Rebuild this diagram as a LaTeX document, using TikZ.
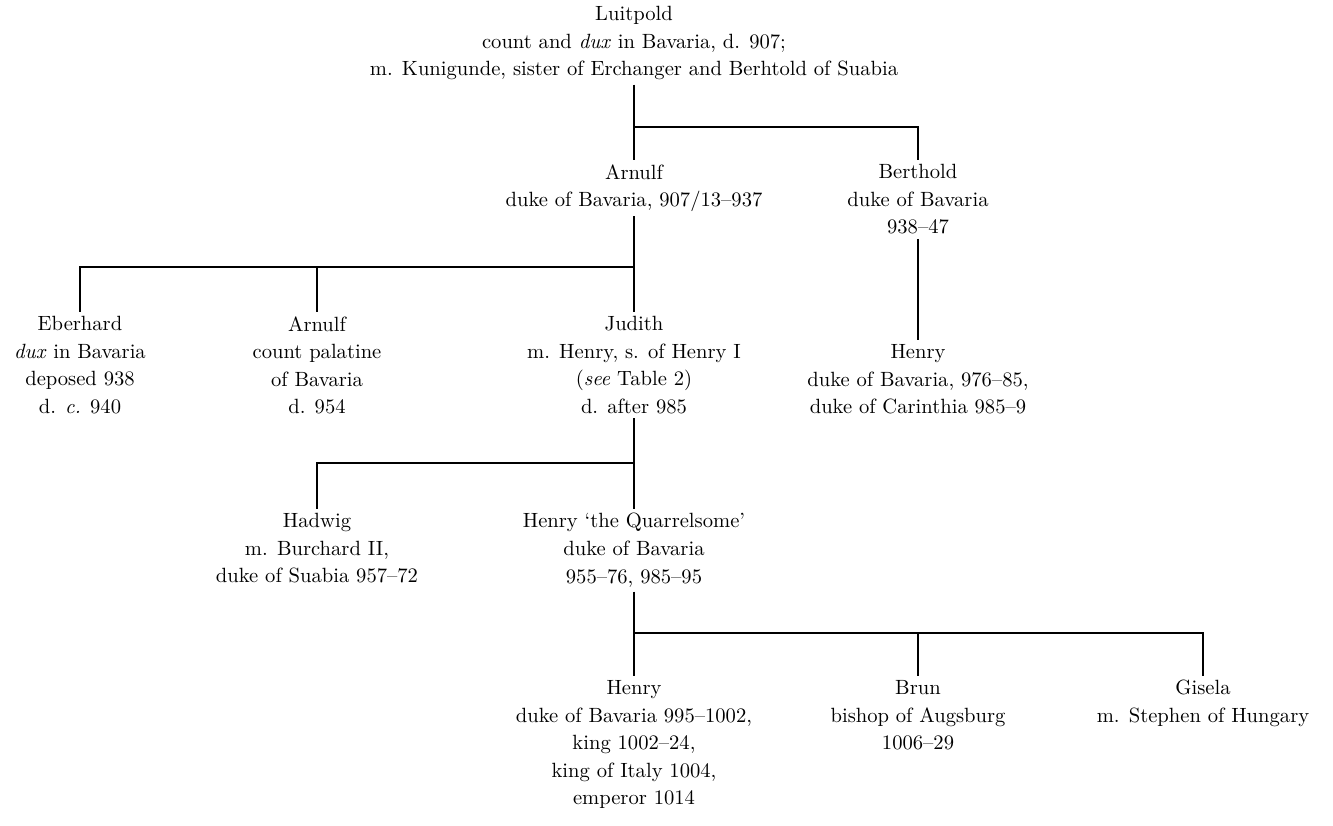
\documentclass[tikz,border=0pt]{standalone}
\usepackage{tikz}
\usetikzlibrary{positioning}
\tikzstyle{person}=[align=center,inner sep=2pt,anchor=north,font=\fontsize{10.3}{13.8}\selectfont]
\tikzstyle{kin}=[draw=black,line width=0.6pt]
\begin{document}
\begin{tikzpicture}[x=0.5pt,y=-0.5pt]
    \path[use as bounding box,fill=white] (0,0) rectangle (1333,825);
    \node[person] at (634,2) (luitpold) {Luitpold\\count and \textit{dux} in Bavaria, d. 907;\\m. Kunigunde, sister of Erchanger and Berhtold of Suabia};
    \node[person] at (634,160) (arnulf) {Arnulf\\duke of Bavaria, 907/13--937};
    \node[person] at (918,160) (berthold) {Berthold\\duke of Bavaria\\938--47};
    \node[person] at (80,312) (eberhard) {Eberhard\\\textit{dux} in Bavaria\\deposed 938\\d. \textit{c.} 940};
    \node[person] at (317,312) (arnulfcp) {Arnulf\\count palatine\\of Bavaria\\d. 954};
    \node[person] at (634,312) (judith) {Judith\\m. Henry, s. of Henry I\\(\textit{see} Table 2)\\d. after 985};
    \node[person] at (918,340) (henrycar) {Henry\\duke of Bavaria, 976--85,\\duke of Carinthia 985--9};
    \node[person] at (317,509) (hadwig) {Hadwig\\m. Burchard II,\\duke of Suabia 957--72};
    \node[person] at (634,509) (henryq) {Henry `the Quarrelsome'\\duke of Bavaria\\955--76, 985--95};
    \node[person] at (634,676) (henryk) {Henry\\duke of Bavaria 995--1002,\\king 1002--24,\\king of Italy 1004,\\emperor 1014};
    \node[person] at (918,676) (brun) {Brun\\bishop of Augsburg\\1006--29};
    \node[person] at (1203,676) (gisela) {Gisela\\m. Stephen of Hungary};
    % forks
    \coordinate (fork1) at (634,127);
    \coordinate (fork2) at (634,267);
    \coordinate (fork3) at (634,463);
    \coordinate (fork4) at (634,633);
    \draw[kin] (luitpold) -- (arnulf);
    \draw[kin] (fork1) -| (berthold);
    \draw[kin] (arnulf) -- (judith);
    \draw[kin] (fork2) -| (eberhard);
    \draw[kin] (fork2 -| arnulfcp) -- (arnulfcp);
    \draw[kin] (berthold) -- (henrycar);
    \draw[kin] (judith) -- (henryq);
    \draw[kin] (fork3) -| (hadwig);
    \draw[kin] (henryq) -- (henryk);
    \draw[kin] (fork4) -| (gisela);
    \draw[kin] (fork4 -| brun) -- (brun);
\end{tikzpicture}
\end{document}
